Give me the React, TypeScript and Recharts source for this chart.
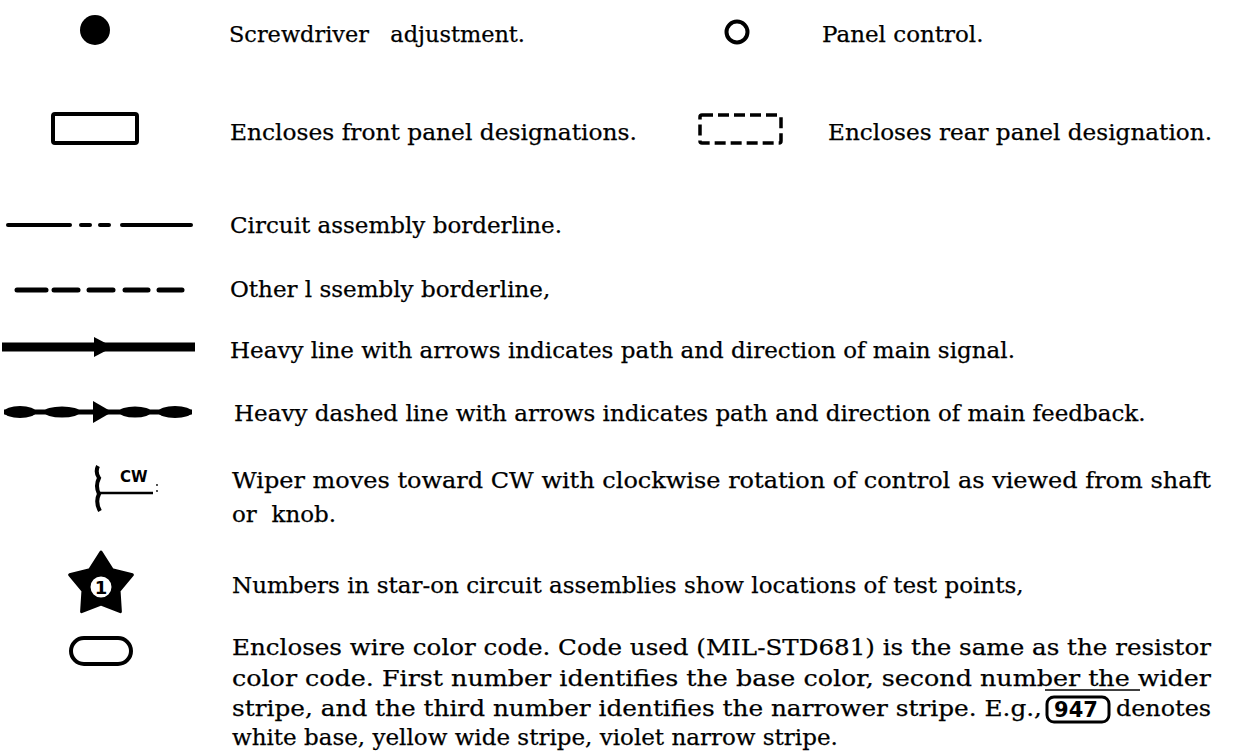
import React from 'react';
import { ComposedChart, XAxis, YAxis, Customized } from 'recharts';

const W = 1246;
const H = 753;

// legend texts, one per symbol row
const topLabels = ['Screwdriver   adjustment.', 'Panel control.'];
const panelLabels = ['Encloses front panel designations.', 'Encloses rear panel designation.'];
const lineLabels = [
  'Circuit assembly borderline.',
  'Other l ssembly borderline,',
  'Heavy line with arrows indicates path and direction of main signal.',
  'Heavy dashed line with arrows indicates path and direction of main feedback.',
];
const wiperLines = [
  'Wiper moves toward CW with clockwise rotation of control as viewed from shaft',
  'or  knob.',
];
const starLabel = 'Numbers in star-on circuit assemblies show locations of test points,';
const wireLines = [
  'Encloses wire color code. Code used (MIL-STD681) is the same as the resistor',
  'color code. First number identifies the base color, second number the wider',
  'stripe, and the third number identifies the narrower stripe. E.g.,',
  'white base, yellow wide stripe, violet narrow stripe.',
];
const exampleCode = '947';
const exampleTail = 'denotes';

const FONT = '"DejaVu Serif", serif';
const FS = 23;

const T = ({ x, y, children, len }: { x: number; y: number; children: React.ReactNode; len?: number }) => (
  <text
    x={x}
    y={y}
    fontFamily={FONT}
    fontSize={FS}
    fill="#000"
    stroke="#000"
    strokeWidth={0.25}
    textLength={len}
    lengthAdjust={len ? 'spacingAndGlyphs' : undefined}
    style={{ whiteSpace: 'pre' }}
  >
    {children}
  </text>
);

const starPoints = (cx: number, cy: number, R: number, r: number) => {
  const pts: string[] = [];
  for (let i = 0; i < 10; i++) {
    const a = (Math.PI / 5) * i - Math.PI / 2;
    const rad = i % 2 === 0 ? R : r;
    pts.push(`${cx + rad * Math.cos(a)},${cy + rad * Math.sin(a)}`);
  }
  return pts.join(' ');
};

const Sheet = () => (
  <g>
    {/* row 1 */}
    <circle cx={95} cy={30} r={15} fill="#000" />
    <T x={229} y={42} len={296}>{topLabels[0]}</T>
    <circle cx={737} cy={32} r={10.5} fill="none" stroke="#000" strokeWidth={4} />
    <T x={822} y={42}>{topLabels[1]}</T>

    {/* row 2 */}
    <rect x={53} y={114} width={84} height={29} rx={2} fill="none" stroke="#000" strokeWidth={4} />
    <T x={230} y={140} len={407}>{panelLabels[0]}</T>
    <rect x={700} y={115} width={81} height={28} rx={2} fill="none" stroke="#000" strokeWidth={3.5} strokeDasharray="11 5" />
    <T x={828} y={140} len={384}>{panelLabels[1]}</T>

    {/* circuit assembly borderline */}
    <g stroke="#000" strokeWidth={4} strokeLinecap="round">
      <line x1={8} y1={225} x2={70} y2={225} />
      <line x1={81} y1={225} x2={90} y2={225} />
      <line x1={100} y1={225} x2={109} y2={225} />
      <line x1={122} y1={225} x2={191} y2={225} />
    </g>
    <T x={230} y={233}>{lineLabels[0]}</T>

    {/* other assembly borderline */}
    <g stroke="#000" strokeWidth={5} strokeLinecap="round">
      <line x1={17} y1={290} x2={46} y2={290} />
      <line x1={54} y1={290} x2={78} y2={290} />
      <line x1={89} y1={290} x2={113} y2={290} />
      <line x1={125} y1={290} x2={148} y2={290} />
      <line x1={159} y1={290} x2={182} y2={290} />
    </g>
    <T x={230} y={297}>{lineLabels[1]}</T>

    {/* heavy line with arrow */}
    <line x1={2} y1={347} x2={195} y2={347} stroke="#000" strokeWidth={9} />
    <polygon points="94,337 113,347 94,357" fill="#000" />
    <T x={230} y={358}>{lineLabels[2]}</T>

    {/* heavy dashed line with arrow */}
    <line x1={4} y1={412} x2={192} y2={412} stroke="#000" strokeWidth={5} />
    <ellipse cx={20} cy={412} rx={16} ry={6} fill="#000" />
    <ellipse cx={62} cy={412} rx={18} ry={5.5} fill="#000" />
    <ellipse cx={135} cy={412} rx={16} ry={5.5} fill="#000" />
    <ellipse cx={175} cy={412} rx={17} ry={6} fill="#000" />
    <polygon points="93,401 112,412 93,423" fill="#000" />
    <T x={234} y={421}>{lineLabels[3]}</T>

    {/* wiper */}
    <path d="M98,466 q-3,6 1,12 q-4,8 0,16 q-4,8 1,17" fill="none" stroke="#000" strokeWidth={4} />
    <line x1={100} y1={493} x2={153} y2={493} stroke="#000" strokeWidth={2.5} />
    <text x={120} y={482} fontFamily='"DejaVu Sans", sans-serif' fontWeight="bold" fontSize={15} fill="#000">CW</text>
    <circle cx={157} cy={485} r={0.9} fill="#000" />
    <circle cx={157} cy={491} r={0.9} fill="#000" />
    <T x={232} y={488} len={979}>{wiperLines[0]}</T>
    <T x={232} y={522}>{wiperLines[1]}</T>

    {/* star */}
    <polygon points={starPoints(101, 585, 33, 19)} fill="#000" stroke="#000" strokeWidth={3} strokeLinejoin="round" />
    <circle cx={101} cy={587} r={12} fill="#fff" stroke="#000" strokeWidth={3} />
    <text x={101} y={594} textAnchor="middle" fontFamily='"DejaVu Sans", sans-serif' fontWeight="bold" fontSize={18} fill="#000">1</text>
    <T x={232} y={593}>{starLabel}</T>

    {/* wire colour code */}
    <rect x={71} y={638} width={60} height={26} rx={13} fill="none" stroke="#000" strokeWidth={4} />
    <T x={232} y={655} len={979}>{wireLines[0]}</T>
    <T x={232} y={686} len={979}>{wireLines[1]}</T>
    <line x1={1045} y1={690} x2={1140} y2={690} stroke="#000" strokeWidth={1.5} />
    <T x={232} y={716} len={810}>{wireLines[2]}</T>
    <rect x={1047} y={697} width={62} height={25} rx={7} fill="none" stroke="#000" strokeWidth={3} />
    <text x={1076} y={717} textAnchor="middle" fontFamily='"DejaVu Sans", sans-serif' fontWeight="bold" fontSize={21} fill="#000">{exampleCode}</text>
    <T x={1116} y={716} len={95}>{exampleTail}</T>
    <T x={232} y={745}>{wireLines[3]}</T>
  </g>
);

export default function App() {
  return (
    <div style={{ position: 'absolute', left: 0, top: 0, width: W, height: H, background: '#fff' }}>
      <ComposedChart width={W} height={H} data={[]} margin={{ top: 0, right: 0, bottom: 0, left: 0 }}>
        <XAxis type="number" dataKey="x" domain={[0, W]} hide />
        <YAxis type="number" domain={[0, H]} reversed hide />
        <Customized component={Sheet} />
      </ComposedChart>
    </div>
  );
}
